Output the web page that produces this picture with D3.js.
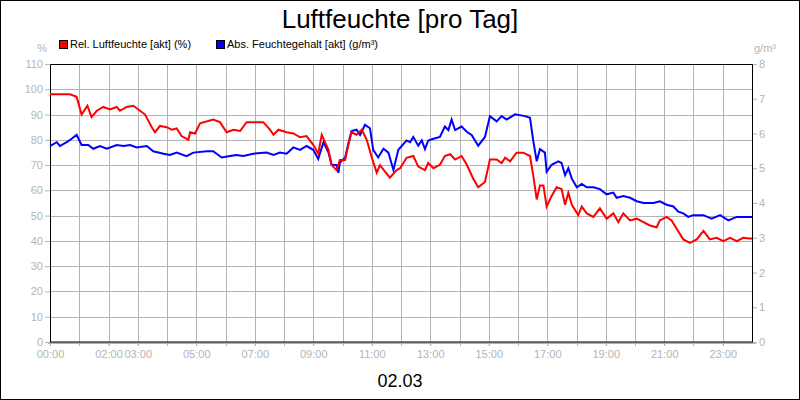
<!DOCTYPE html>
<html><head><meta charset="utf-8">
<script src="https://cdn.jsdelivr.net/npm/d3@7"></script>
<style>body{margin:0;background:#fff}svg{display:block}text{font-family:"Liberation Sans",Arial,sans-serif}</style>
</head><body><svg id="c" width="800" height="400"></svg>
<script>
// hours of day and relative humidity (%)
const relHours = [0,0.68,0.91,1.08,1.28,1.42,1.6,1.82,2.05,2.28,2.39,2.62,2.85,3.02,3.25,3.48,3.59,3.76,3.99,4.16,4.33,4.5,4.73,4.79,4.96,5.13,5.58,5.81,6.04,6.27,6.5,6.72,7.29,7.52,7.64,7.81,8.09,8.32,8.55,8.77,9.0,9.17,9.29,9.52,9.63,9.8,9.91,10.09,10.2,10.31,10.48,10.66,10.83,11.0,11.17,11.28,11.62,11.85,11.97,12.19,12.42,12.59,12.82,12.93,13.11,13.33,13.5,13.68,13.85,14.07,14.25,14.47,14.64,14.87,15.04,15.27,15.44,15.56,15.73,15.95,16.18,16.41,16.52,16.64,16.75,16.87,16.98,17.15,17.32,17.49,17.61,17.72,17.84,18.06,18.18,18.35,18.58,18.8,19.03,19.26,19.43,19.6,19.83,20.06,20.29,20.51,20.74,20.85,21.08,21.25,21.43,21.65,21.88,22.11,22.34,22.56,22.79,23.02,23.25,23.48,23.7,23.9,24];
const relValues = [98,98,97,90,93.5,89,91.5,93,92,93,91.5,93,93.5,92,90,85,83,85.5,85,84,84.5,81.5,80,83,82.5,86.5,88,87,83,84,83.5,87,87,84,82,84,83,82.5,81,81.5,78,74.5,82,76,70,68,72,72,78,83,82,84,80,73,67,70,65,68,68.75,72.9,73.6,69.4,68,70.8,68.75,70.1,73.6,74.3,72.2,73.6,70.1,64.6,61.2,63.3,72.2,72.2,70.8,72.9,71.5,74.9,74.9,73.6,66,56.4,61.9,61.9,53.6,57.8,61.2,60.5,54.3,59.1,54.3,50.2,53.6,50.9,49.5,52.9,48.8,50.9,47.4,50.9,48.1,48.8,47.4,46.1,45.4,48.1,49.5,48.1,44.7,40.6,39.2,40.6,44,40.6,41.2,39.9,41.2,39.9,41.2,41,41];
// hours of day and absolute moisture content (g/m³)
const absHours = [0,0.23,0.34,0.57,0.74,0.91,1.08,1.31,1.48,1.71,1.94,2.28,2.51,2.74,2.96,3.31,3.53,3.88,4.1,4.33,4.67,4.9,5.36,5.58,5.87,6.15,6.38,6.61,6.95,7.41,7.64,7.86,8.09,8.32,8.55,8.77,9.0,9.17,9.35,9.52,9.63,9.8,9.86,9.91,10.09,10.2,10.31,10.48,10.6,10.77,10.94,11.05,11.22,11.4,11.57,11.74,11.91,12.19,12.31,12.42,12.59,12.71,12.82,12.93,13.11,13.33,13.5,13.62,13.73,13.85,14.07,14.25,14.42,14.64,14.87,15.04,15.27,15.44,15.61,15.9,16.24,16.41,16.52,16.64,16.75,16.92,16.98,17.15,17.38,17.49,17.61,17.72,17.84,18.01,18.18,18.35,18.58,18.8,19.03,19.26,19.37,19.6,19.83,20.06,20.29,20.63,20.85,21.08,21.31,21.48,21.65,21.82,21.99,22.34,22.62,22.91,23.19,23.48,23.9,24];
const absValues = [5.64,5.75,5.64,5.75,5.85,5.96,5.67,5.67,5.56,5.64,5.56,5.67,5.64,5.67,5.6,5.64,5.49,5.42,5.38,5.45,5.35,5.45,5.49,5.49,5.31,5.35,5.38,5.35,5.42,5.45,5.38,5.45,5.42,5.6,5.53,5.64,5.53,5.27,5.75,5.45,5.09,5.09,4.87,5.16,5.31,5.71,6.07,6.11,5.96,6.25,6.15,5.53,5.31,5.56,5.45,4.95,5.53,5.8,5.75,5.9,5.65,5.8,5.55,5.8,5.85,5.9,6.2,6.1,6.4,6.1,6.2,6.05,5.95,5.65,5.9,6.5,6.35,6.5,6.4,6.55,6.5,6.45,5.8,5.2,5.55,5.45,4.9,5.1,5.2,5.15,4.8,5.0,4.7,4.45,4.55,4.45,4.45,4.4,4.25,4.3,4.15,4.2,4.15,4.05,4.0,4.0,4.05,3.95,3.9,3.75,3.7,3.6,3.65,3.65,3.55,3.65,3.5,3.6,3.6,3.6];
const leftTicks = [0,10,20,30,40,50,60,70,80,90,100,110];
const rightTicks = [0,1,2,3,4,5,6,7,8];
const hourLabels = [0,2,3,5,7,9,11,13,15,17,19,21,23];

const svg = d3.select("#c");
const L = 50, R = 752, T = 64, B = 342;
const x = d3.scaleLinear().domain([0, 24]).range([L, R]);
const yL = d3.scaleLinear().domain([0, 110]).range([B, T]);
const yR = d3.scaleLinear().domain([0, 8]).range([B, T]);
const grey = "#b4b4b4";

svg.append("rect").attr("x", 0.5).attr("y", 0.5).attr("width", 799).attr("height", 399)
  .attr("fill", "#fff").attr("stroke", "#000");

// grid
svg.append("g").selectAll("line").data(d3.range(1, 24)).join("line")
  .attr("x1", d => Math.round(x(d)) + .5).attr("x2", d => Math.round(x(d)) + .5)
  .attr("y1", T).attr("y2", B + 4).attr("stroke", grey);
svg.append("g").selectAll("line").data(leftTicks.slice(1, -1)).join("line")
  .attr("x1", L).attr("x2", R).attr("y1", d => Math.round(yL(d)) + .5).attr("y2", d => Math.round(yL(d)) + .5)
  .attr("stroke", grey);

// left axis
svg.append("g").attr("transform", `translate(${L},0)`)
  .call(d3.axisLeft(yL).tickValues(leftTicks).tickSize(5).tickPadding(2))
  .call(g => g.select(".domain").remove())
  .call(g => g.selectAll("line").attr("stroke", grey))
  .call(g => g.selectAll("text").attr("fill", grey).attr("font-size", 11));
// right axis
svg.append("g").attr("transform", `translate(${R},0)`)
  .call(d3.axisRight(yR).tickValues(rightTicks).tickSize(5).tickPadding(2))
  .call(g => g.select(".domain").remove())
  .call(g => g.selectAll("line").attr("stroke", grey))
  .call(g => g.selectAll("text").attr("fill", grey).attr("font-size", 11));
// bottom axis
svg.append("g").attr("transform", `translate(0,${B})`)
  .call(d3.axisBottom(x).tickValues(hourLabels).tickSize(4).tickPadding(4)
    .tickFormat(d => String(d).padStart(2, "0") + ":00"))
  .call(g => g.select(".domain").remove())
  .call(g => g.selectAll("line").attr("stroke", grey))
  .call(g => g.selectAll("text").attr("fill", grey).attr("font-size", 11)
    .attr("font-family", "'Liberation Sans Narrow','Liberation Sans',sans-serif"));

// frame
svg.append("path").attr("d", `M${L+.5},${B}V${T+.5}H${R+.5}V${B}`).attr("fill", "none").attr("stroke", "#000");
svg.append("line").attr("x1", L - 2).attr("x2", R + 4).attr("y1", B + 1).attr("y2", B + 1)
  .attr("stroke", grey).attr("stroke-width", 2);
svg.append("line").attr("x1", L).attr("x2", R + 1).attr("y1", B).attr("y2", B).attr("stroke", "#000");

// lines
const relLine = d3.line().x((d, i) => x(relHours[i])).y(d => yL(d));
const absLine = d3.line().x((d, i) => x(absHours[i])).y(d => yR(d));
svg.append("path").datum(absValues).attr("d", absLine).attr("fill", "none").attr("stroke", "#0000ff").attr("stroke-width", 2);
svg.append("path").datum(relValues).attr("d", relLine).attr("fill", "none").attr("stroke", "#ff0000").attr("stroke-width", 2);

// texts
svg.append("text").attr("x", 400).attr("y", 28).attr("text-anchor", "middle").attr("font-size", 26).text("Luftfeuchte [pro Tag]");
svg.append("text").attr("x", 400).attr("y", 387).attr("text-anchor", "middle").attr("font-size", 18)
  .attr("font-family", "'Liberation Sans Narrow','Liberation Sans',sans-serif").text("02.03");
svg.append("text").attr("x", 47).attr("y", 52).attr("text-anchor", "end").attr("font-size", 11).attr("fill", grey).text("%");
svg.append("text").attr("x", 754).attr("y", 52).attr("font-size", 11).attr("fill", grey).text("g/m³");

const legend = [{label: "Rel. Luftfeuchte [akt] (%)", color: "#ff0000", x: 59}, {label: "Abs. Feuchtegehalt [akt] (g/m³)", color: "#0000ff", x: 216}];
const lg = svg.append("g").selectAll("g").data(legend).join("g").attr("transform", d => `translate(${d.x},40)`);
lg.append("rect").attr("x", .5).attr("y", .5).attr("width", 8).attr("height", 8).attr("fill", d => d.color).attr("stroke", "#000");
lg.append("text").attr("x", 11).attr("y", 8).attr("font-size", 11).text(d => d.label);
</script></body></html>
